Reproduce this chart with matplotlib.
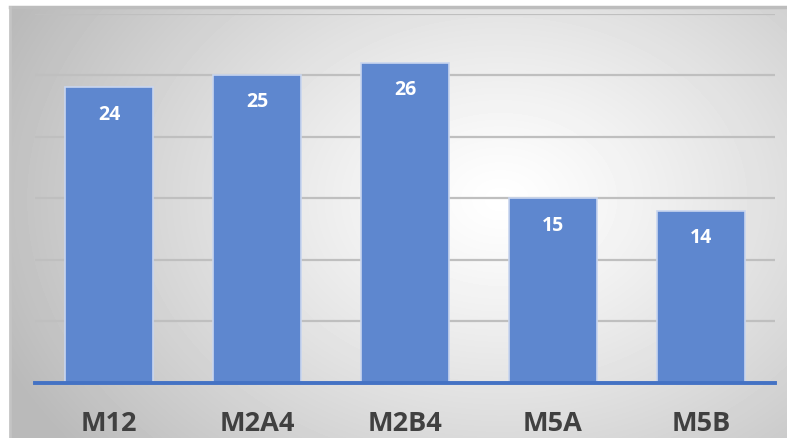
import numpy as np
import matplotlib.pyplot as plt

categories = ["M12", "M2A4", "M2B4", "M5A", "M5B"]
values = [24, 25, 26, 15, 14]

W, H = 787, 439
fig = plt.figure(figsize=(W / 100, H / 100), dpi=100)
fig.patch.set_facecolor("white")

# background panel with radial gradient (white in the middle, grey at the edges)
bx0, by0 = 10, 8
bg = fig.add_axes([bx0 / W, 0, (W - bx0) / W, (H - by0) / H])
yy, xx = np.mgrid[by0:H, bx0:W]
r = np.sqrt(((xx - 500) / 540.0) ** 2 + ((yy - 200) / 400.0) ** 2)
shade = 1.0 - 0.27 * np.clip(r, 0, 1) ** 1.2
bg.imshow(shade, cmap="gray", vmin=0, vmax=1, aspect="auto",
          extent=[0, 1, 0, 1], interpolation="bilinear")
bg.set_xlim(0, 1)
bg.set_ylim(0, 1)
bg.axis("off")
bg.plot([0, 1], [1, 1], color="#BDBDBD", lw=2.5, transform=bg.transAxes, clip_on=False)
bg.plot([0, 0], [0, 1], color="#C4C4C4", lw=2, transform=bg.transAxes, clip_on=False)

# main plot
left, right = 35, 775
top, base = 14.5, 384
ax = fig.add_axes([left / W, (H - base) / H, (right - left) / W, (base - top) / H])
ax.set_facecolor("none")
x = np.arange(len(categories))
bars = ax.bar(x, values, width=0.6, color="#5E87CF", edgecolor="#C9D6EF",
              linewidth=1.2, zorder=3)
ax.set_xlim(-0.5, len(categories) - 0.5)
ax.set_ylim(0, 30)
ax.set_yticks([5, 10, 15, 20, 25, 30])
ax.yaxis.grid(True, color="#BFBFBF", lw=1.6, zorder=0)
ax.tick_params(axis="y", left=False, labelleft=False)
ax.tick_params(axis="x", bottom=False, pad=16)
ax.set_xticks(x)
ax.set_xticklabels(categories, fontsize=19.5, fontweight="bold", color="#404040",
                   family="Open Sans")
for s in ["top", "right", "left"]:
    ax.spines[s].set_visible(False)
ax.spines["bottom"].set_color("#4472C4")
ax.spines["bottom"].set_linewidth(2.8)
ax.spines["bottom"].set_zorder(4)

for xi, v in zip(x, values):
    ax.annotate(str(v), (xi, v), xytext=(0, -19), textcoords="offset points",
                ha="center", va="center", color="white", fontsize=14,
                fontweight="bold", family="Open Sans", zorder=5)

fig.savefig("out.png", dpi=100)
